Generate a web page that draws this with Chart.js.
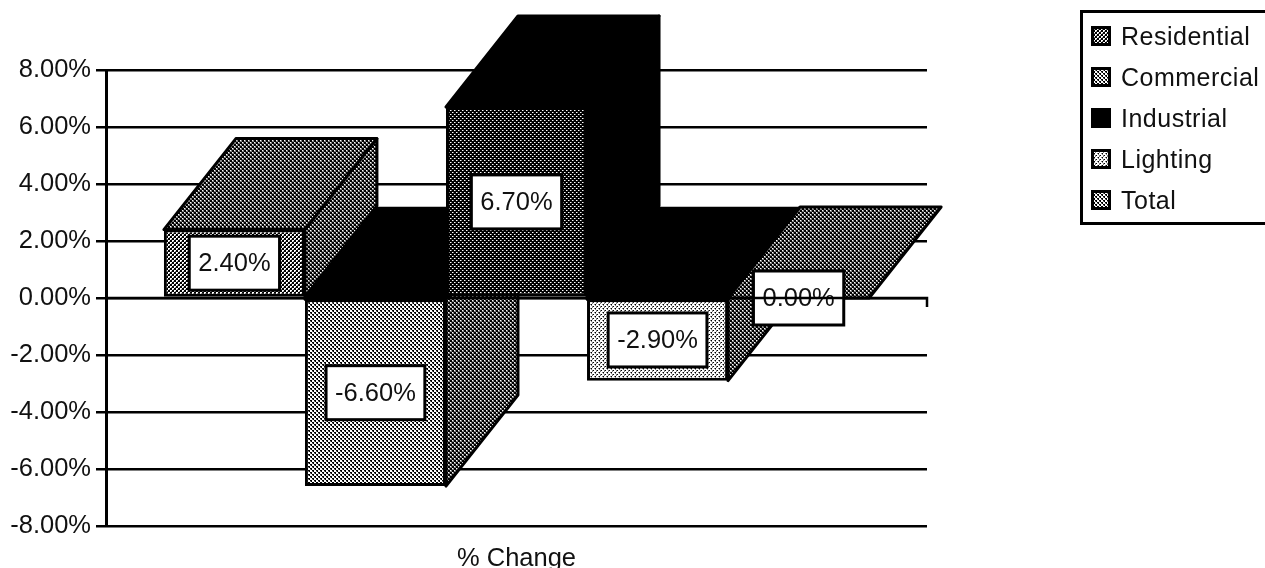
<!DOCTYPE html>
<html>
<head>
<meta charset="utf-8">
<title>% Change</title>
<script src="https://cdn.jsdelivr.net/npm/chart.js@4"></script>
<style>
    html, body { margin: 0; padding: 0; background: #fff; overflow: hidden; }
    #wrap { position: relative; width: 1265px; height: 568px; overflow: hidden; }
    #myChart { position: absolute; left: 0; top: 0; }
    #legend {
        position: absolute; left: 1080px; top: 10px; width: 190px; height: 209px;
        border: 3px solid #000; box-sizing: content-box;
        font: 25px "Liberation Sans", Arial, sans-serif; color: #111;
    }
    .item { position: absolute; left: 8px; height: 30px; line-height: 30px; white-space: nowrap; letter-spacing: 0.5px; }
    .item canvas { position: absolute; left: 0; top: 5px; }
    .item span { position: absolute; left: 30px; top: 0; }
</style>
</head>
<body>
<div id="wrap">
    <canvas id="myChart" width="1265" height="568"></canvas>
    <div id="legend"></div>
</div>
<script>
const categories = ['% Change'];
const seriesNames = ['Residential', 'Commercial', 'Industrial', 'Lighting', 'Total'];
const seriesValues = [2.4, -6.6, 6.7, -2.9, 0];
const yMin = -8;
const yMax = 8;
const yStep = 2;

// 3D offset of the back of the bars, in pixels
const depthX = 72;
const depthY = 91;
const fontName = '"Liberation Sans", Arial, sans-serif';

// dither tiles: . white, g grey, # black
const tiles = {
    front1: ['..##', '.g##', '##..', '##.g'],
    front2: ['..##', '..g#', '##..', 'g#..'],
    front3: ['.g##', '####', '##.g', '####'],
    front4: ['..g#', '...g', 'g#..', 'g...'],
    dark: ['.g##', 'gg##', '##.g', '##gg'],
    black: ['####', '####', '####', '####']
};

function makePattern(rows) {
    const c = document.createElement('canvas');
    c.width = rows[0].length;
    c.height = rows.length;
    const x = c.getContext('2d');
    rows.forEach((row, j) => {
        [...row].forEach((ch, i) => {
            x.fillStyle = ch === '.' ? '#ffffff' : ch === 'g' ? '#808080' : '#000000';
            x.fillRect(i, j, 1, 1);
        });
    });
    return x.createPattern(c, 'repeat');
}

const fronts = ['front1', 'front2', 'front3', 'front4', 'front2'];
const tops = ['dark', 'black', 'black', 'black', 'dark'];
const sides = ['dark', 'dark', 'black', 'dark', 'dark'];

function polygon(ctx, pts, fill) {
    ctx.beginPath();
    pts.forEach((p, i) => (i ? ctx.lineTo(p[0], p[1]) : ctx.moveTo(p[0], p[1])));
    ctx.closePath();
    ctx.fillStyle = fill;
    ctx.fill();
    ctx.lineWidth = 3;
    ctx.strokeStyle = '#000';
    ctx.lineJoin = 'round';
    ctx.stroke();
}

const box3d = {
    id: 'box3d',
    // top and side faces go under the front faces that the library draws
    beforeDatasetsDraw(chart) {
        const ctx = chart.ctx;
        ctx.save();
        chart.data.datasets.forEach((ds, i) => {
            const bar = chart.getDatasetMeta(i).data[0];
            const l = bar.x - bar.width / 2;
            const r = bar.x + bar.width / 2;
            const hi = Math.min(bar.y, bar.base);
            const lo = Math.max(bar.y, bar.base);
            polygon(ctx, [[l, hi], [r, hi], [r + depthX, hi - depthY], [l + depthX, hi - depthY]], makePattern(tiles[tops[i]]));
            if (lo > hi) {
                polygon(ctx, [[r, hi], [r + depthX, hi - depthY], [r + depthX, lo - depthY], [r, lo]], makePattern(tiles[sides[i]]));
            }
        });
        ctx.restore();
    },
    afterDatasetsDraw(chart) {
        const ctx = chart.ctx;
        const area = chart.chartArea;
        ctx.save();
        ctx.font = '25.5px ' + fontName;
        ctx.textAlign = 'center';
        ctx.textBaseline = 'middle';
        seriesValues.forEach((v, i) => {
            const bar = chart.getDatasetMeta(i).data[0];
            const text = v.toFixed(2) + '%';
            const w = ctx.measureText(text).width + 18;
            const h = 54;
            const cy = (bar.y + bar.base) / 2;
            ctx.fillStyle = '#fff';
            ctx.fillRect(bar.x - w / 2, cy - h / 2, w, h);
            ctx.lineWidth = 3;
            ctx.strokeStyle = '#000';
            ctx.strokeRect(bar.x - w / 2, cy - h / 2, w, h);
            ctx.fillStyle = '#111';
            ctx.fillText(text, bar.x, cy + 1);
        });
        // zero line runs over the bars and the labels, with a tick at its far end
        const y0 = Math.round(chart.scales.y.getPixelForValue(0));
        ctx.beginPath();
        ctx.moveTo(area.left, y0);
        ctx.lineTo(area.right, y0);
        ctx.lineTo(area.right, y0 + 9);
        ctx.lineWidth = 2.5;
        ctx.strokeStyle = '#000';
        ctx.stroke();
        ctx.restore();
    }
};

const chartInstance = new Chart(document.getElementById('myChart'), {
    type: 'bar',
    data: {
        labels: categories,
        datasets: seriesNames.map((name, i) => ({
            label: name,
            data: [seriesValues[i]],
            backgroundColor: makePattern(tiles[fronts[i]]),
            borderColor: '#000',
            borderWidth: 3,
            borderSkipped: false,
            categoryPercentage: 0.859,
            barPercentage: 1
        }))
    },
    options: {
        responsive: false,
        animation: false,
        events: [],
        layout: { padding: { left: 0, top: 70, right: 338, bottom: 0 } },
        scales: {
            x: {
                grid: { display: false },
                border: { display: false },
                afterFit: axis => { axis.height = 42; },
                ticks: {
                    color: '#111',
                    padding: 10,
                    maxRotation: 0,
                    font: { family: fontName, size: 25.5 }
                }
            },
            y: {
                min: yMin,
                max: yMax,
                afterFit: axis => { axis.width = 106; },
                grid: {
                    color: '#000',
                    lineWidth: 2.5,
                    tickLength: 10,
                    tickColor: '#000'
                },
                border: { display: true, color: '#000', width: 3 },
                ticks: {
                    stepSize: yStep,
                    color: '#111',
                    padding: 5,
                    font: { family: fontName, size: 25.5 },
                    callback: value => value.toFixed(2) + '%'
                }
            }
        },
        plugins: {
            legend: { display: false },
            tooltip: { enabled: false }
        }
    },
    plugins: [box3d]
});

// legend sits outside the plot, so it is plain html
const legendEl = document.getElementById('legend');
seriesNames.forEach((name, i) => {
    const row = document.createElement('div');
    row.className = 'item';
    row.style.top = (8 + i * 41) + 'px';
    const swatch = document.createElement('canvas');
    swatch.width = 20;
    swatch.height = 20;
    const sx = swatch.getContext('2d');
    sx.fillStyle = makePattern(tiles[i === 2 ? 'black' : fronts[i]]);
    sx.fillRect(0, 0, 20, 20);
    sx.lineWidth = 6;
    sx.strokeStyle = '#000';
    sx.strokeRect(0, 0, 20, 20);
    const label = document.createElement('span');
    label.textContent = name;
    row.appendChild(swatch);
    row.appendChild(label);
    legendEl.appendChild(row);
});
</script>
</body>
</html>
